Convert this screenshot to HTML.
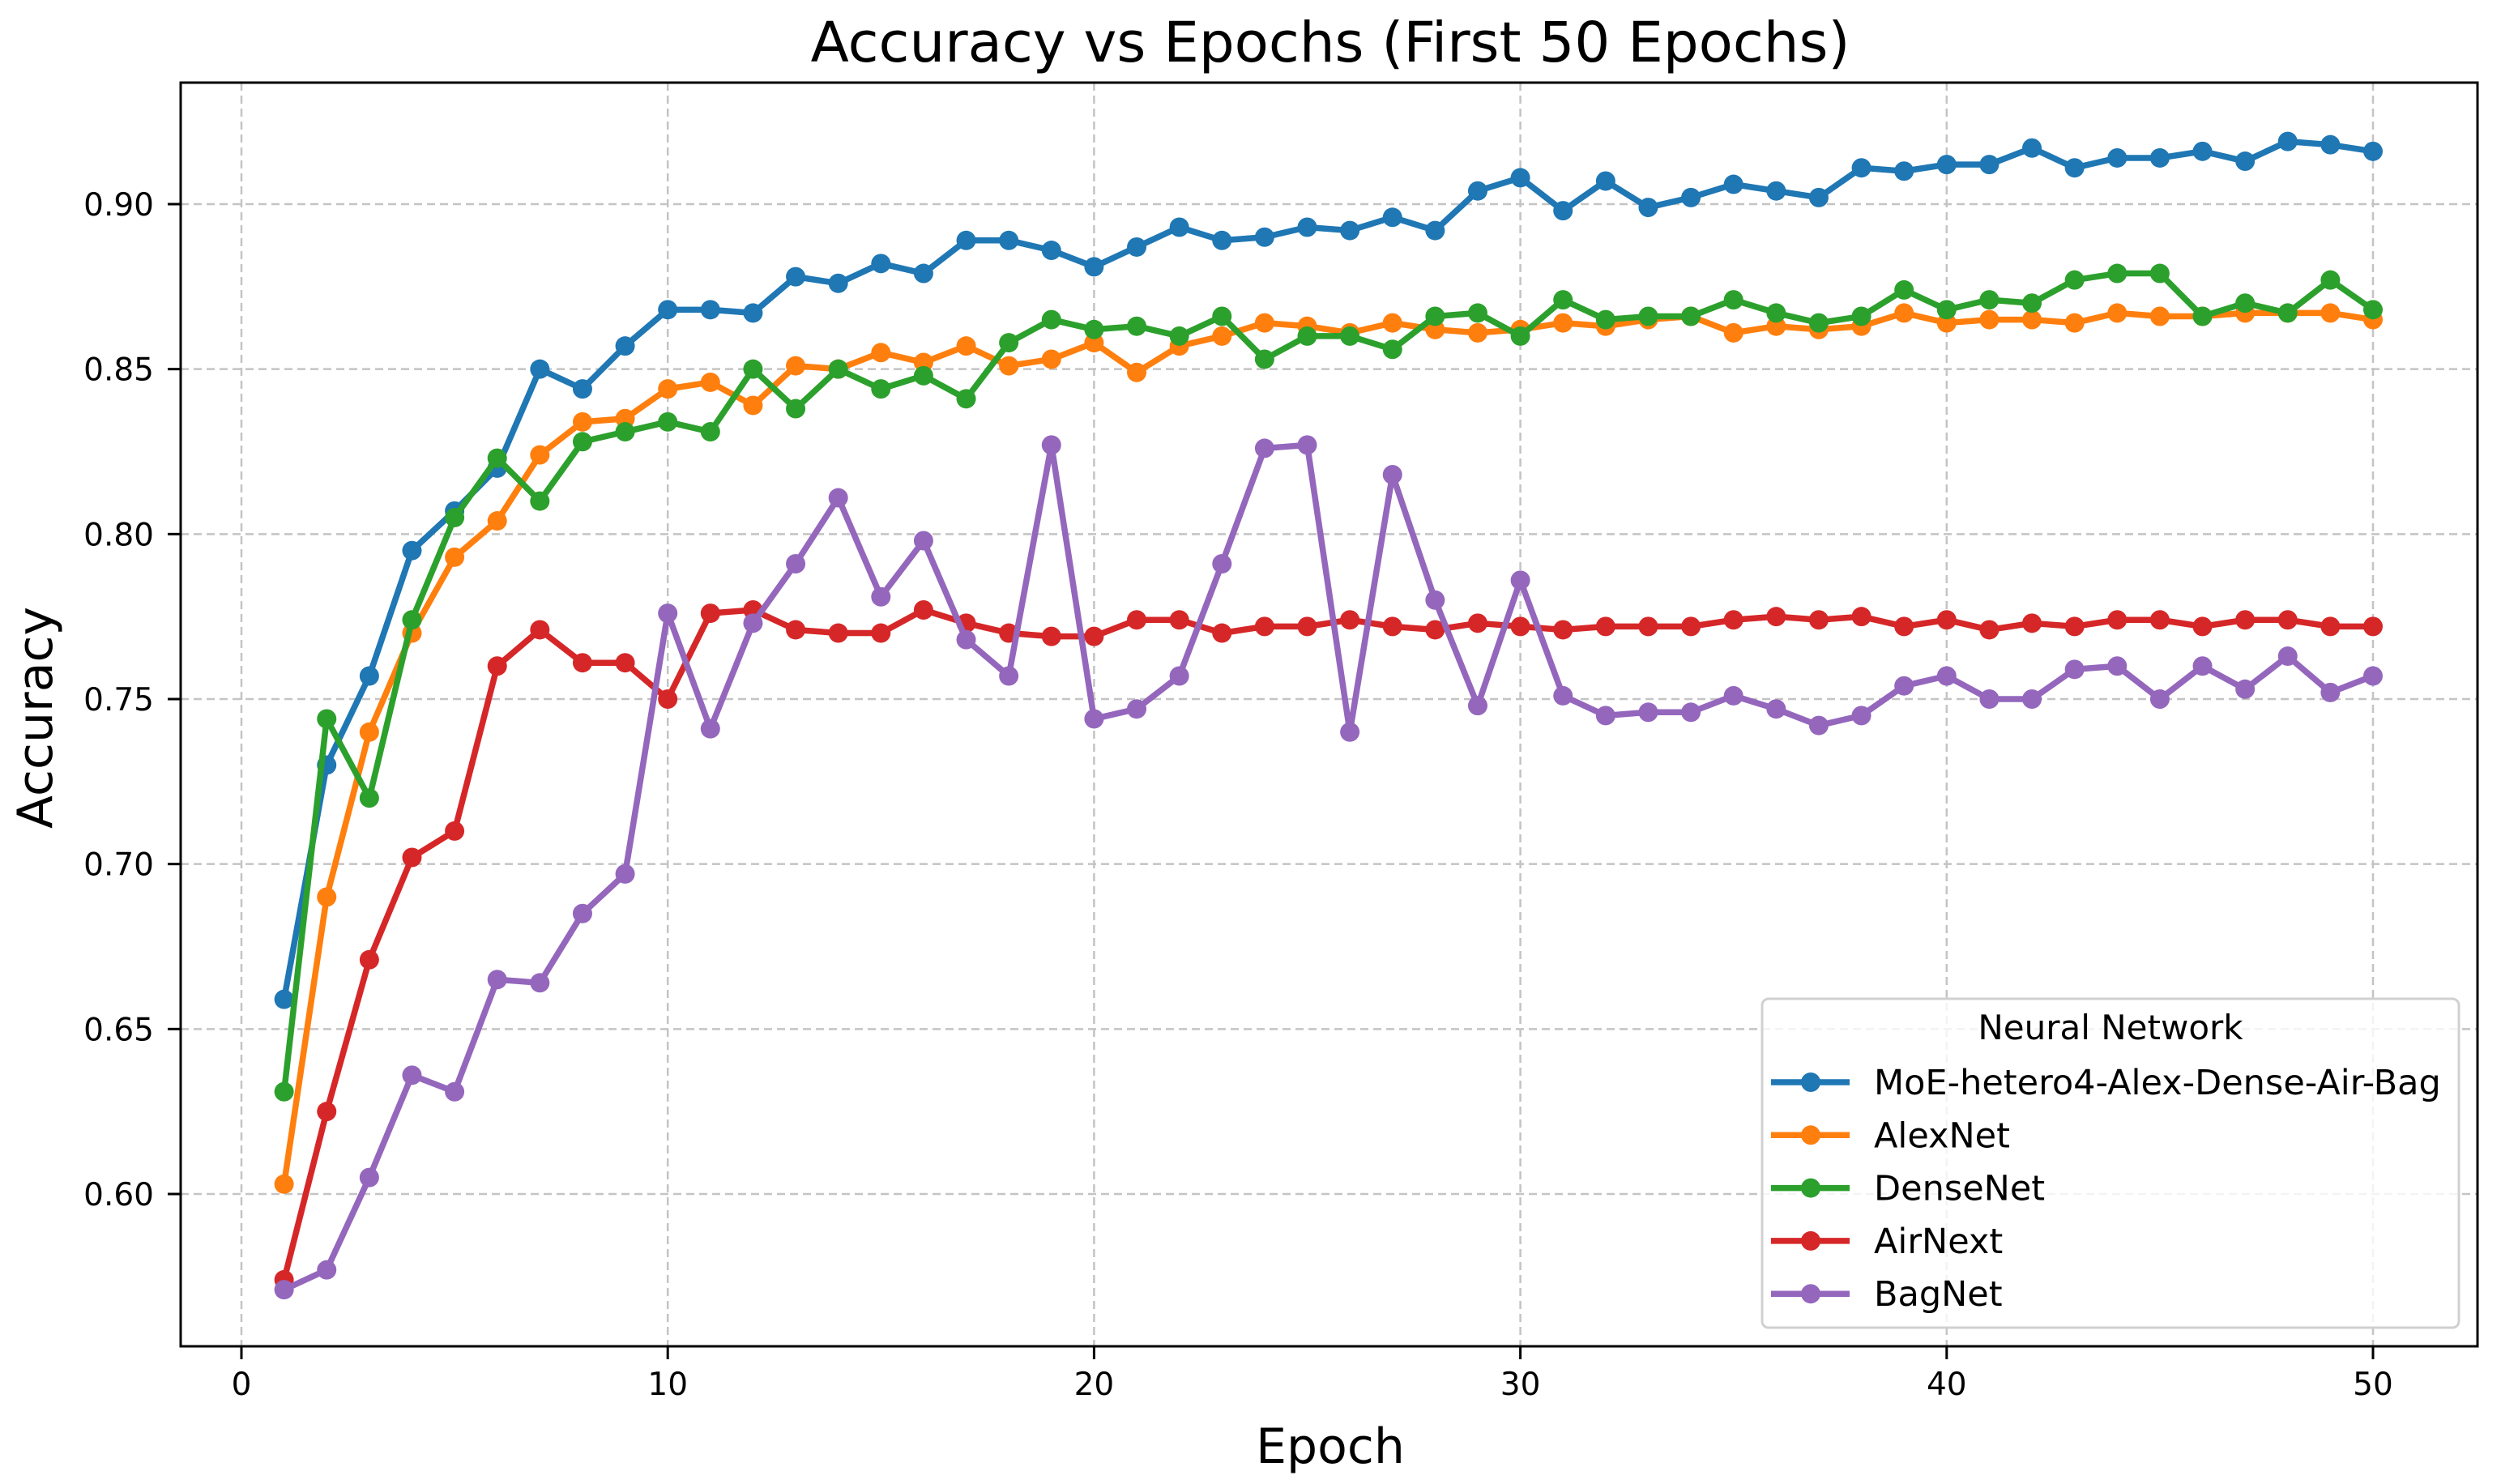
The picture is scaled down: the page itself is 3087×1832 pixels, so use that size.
<!DOCTYPE html>
<html><head><meta charset="utf-8"><style>
html,body{margin:0;padding:0;background:#fff;}
svg{display:block;font-family:"DejaVu Sans","Liberation Sans",sans-serif;}
</style></head><body>
<svg id="chart" width="3087" height="1832" viewBox="0 0 3087 1832" xmlns="http://www.w3.org/2000/svg">
<rect width="3087" height="1832" fill="#fff"/>
<text x="1642" y="76" font-size="69" text-anchor="middle" fill="#000">Accuracy vs Epochs (First 50 Epochs)</text>
<g id="grid"></g>
<g id="axes"></g>
<g id="series"></g>
<rect x="223" y="102" width="2835" height="1560" fill="none" stroke="#000" stroke-width="3"/>
<text x="1642" y="1806" font-size="60" text-anchor="middle">Epoch</text>
<text transform="translate(64,886) rotate(-90)" font-size="60" text-anchor="middle">Accuracy</text>
<g id="legend"></g>
</svg>
<script>
const epochs = Array.from({length:50},(_,i)=>i+1);
const seriesNames = ["MoE-hetero4-Alex-Dense-Air-Bag","AlexNet","DenseNet","AirNext","BagNet"];
const moe = [0.659,0.730,0.757,0.795,0.807,0.820,0.850,0.844,0.857,0.868,0.868,0.867,0.878,0.876,0.882,0.879,0.889,0.889,0.886,0.881,0.887,0.893,0.889,0.890,0.893,0.892,0.896,0.892,0.904,0.908,0.898,0.907,0.899,0.902,0.906,0.904,0.902,0.911,0.910,0.912,0.912,0.917,0.911,0.914,0.914,0.916,0.913,0.919,0.918,0.916];
const alexnet = [0.603,0.690,0.740,0.770,0.793,0.804,0.824,0.834,0.835,0.844,0.846,0.839,0.851,0.850,0.855,0.852,0.857,0.851,0.853,0.858,0.849,0.857,0.860,0.864,0.863,0.861,0.864,0.862,0.861,0.862,0.864,0.863,0.865,0.866,0.861,0.863,0.862,0.863,0.867,0.864,0.865,0.865,0.864,0.867,0.866,0.866,0.867,0.867,0.867,0.865];
const densenet = [0.631,0.744,0.720,0.774,0.805,0.823,0.810,0.828,0.831,0.834,0.831,0.850,0.838,0.850,0.844,0.848,0.841,0.858,0.865,0.862,0.863,0.860,0.866,0.853,0.860,0.860,0.856,0.866,0.867,0.860,0.871,0.865,0.866,0.866,0.871,0.867,0.864,0.866,0.874,0.868,0.871,0.870,0.877,0.879,0.879,0.866,0.870,0.867,0.877,0.868];
const airnext = [0.574,0.625,0.671,0.702,0.710,0.760,0.771,0.761,0.761,0.750,0.776,0.777,0.771,0.770,0.770,0.777,0.773,0.770,0.769,0.769,0.774,0.774,0.770,0.772,0.772,0.774,0.772,0.771,0.773,0.772,0.771,0.772,0.772,0.772,0.774,0.775,0.774,0.775,0.772,0.774,0.771,0.773,0.772,0.774,0.774,0.772,0.774,0.774,0.772,0.772];
const bagnet = [0.571,0.577,0.605,0.636,0.631,0.665,0.664,0.685,0.697,0.776,0.741,0.773,0.791,0.811,0.781,0.798,0.768,0.757,0.827,0.744,0.747,0.757,0.791,0.826,0.827,0.740,0.818,0.780,0.748,0.786,0.751,0.745,0.746,0.746,0.751,0.747,0.742,0.745,0.754,0.757,0.750,0.750,0.759,0.760,0.750,0.760,0.753,0.763,0.752,0.757];
const xTicks = [0,10,20,30,40,50];
const yTicks = [0.60,0.65,0.70,0.75,0.80,0.85,0.90];
const yTickLabels = ["0.60","0.65","0.70","0.75","0.80","0.85","0.90"];

const NS="http://www.w3.org/2000/svg";
const colors=["#1f77b4","#ff7f0e","#2ca02c","#d62728","#9467bd"];
const allData=[moe,alexnet,densenet,airnext,bagnet];
const X=v=>298+(v-0)*(2929-298)/50;
const Y=v=>1474-(v-0.60)*(1474-252)/0.30;
function mk(tag,attrs,parent){const e=document.createElementNS(NS,tag);for(const k in attrs)e.setAttribute(k,attrs[k]);parent.appendChild(e);return e;}
const grid=document.getElementById('grid'),axes=document.getElementById('axes'),ser=document.getElementById('series'),leg=document.getElementById('legend');
xTicks.forEach(t=>{
 const l=mk('line',{x1:X(t),x2:X(t),y1:102,y2:1662,stroke:'#c4c4c4','stroke-width':2.5,'stroke-dasharray':'10,6'},grid);
 
 
 mk('line',{x1:X(t),x2:X(t),y1:1662,y2:1678,stroke:'#000','stroke-width':3},axes);
 const tx=mk('text',{x:X(t),y:1722,'font-size':39,'text-anchor':'middle'},axes);tx.textContent=t;
 
 
});
yTicks.forEach((t,i)=>{
 const l=mk('line',{x1:223,x2:3058,y1:Y(t),y2:Y(t),stroke:'#c4c4c4','stroke-width':2.5,'stroke-dasharray':'10,6'},grid);
 
 
 mk('line',{x1:207,x2:223,y1:Y(t),y2:Y(t),stroke:'#000','stroke-width':3},axes);
 const tx=mk('text',{x:190,y:Y(t)+14,'font-size':39,'text-anchor':'end'},axes);tx.textContent=yTickLabels[i];
 
 
});
allData.forEach((d,s)=>{
 const g=mk('g',{},ser);
 
 
 const pts=d.map((v,i)=>X(epochs[i])+','+Y(v)).join(' ');
 const pl=mk('polyline',{points:pts,fill:'none',stroke:colors[s],'stroke-width':7.5,'stroke-linejoin':'round'},g);
 
 
 d.forEach((v,i)=>{const c=mk('circle',{cx:X(epochs[i]),cy:Y(v),r:12,fill:colors[s]},g);
  
  });
});
const lb=mk('rect',{x:2175,y:1233,width:860,height:406,rx:8,fill:'#fff','fill-opacity':0.8,stroke:'#d0d0d0','stroke-width':3},leg);


const lt=mk('text',{x:2605,y:1283,'font-size':42,'text-anchor':'middle'},leg);lt.textContent='Neural Network';


seriesNames.forEach((n,i)=>{
 const y=1336+i*65.3;
 const g=mk('g',{},leg);
 
 
 mk('line',{x1:2186,x2:2283,y1:y,y2:y,stroke:colors[i],'stroke-width':7.5},g);
 mk('circle',{cx:2235,cy:y,r:12,fill:colors[i]},g);
 const t=mk('text',{x:2313,y:y+15,'font-size':43},g);t.textContent=n;
});
</script>
</body></html>
